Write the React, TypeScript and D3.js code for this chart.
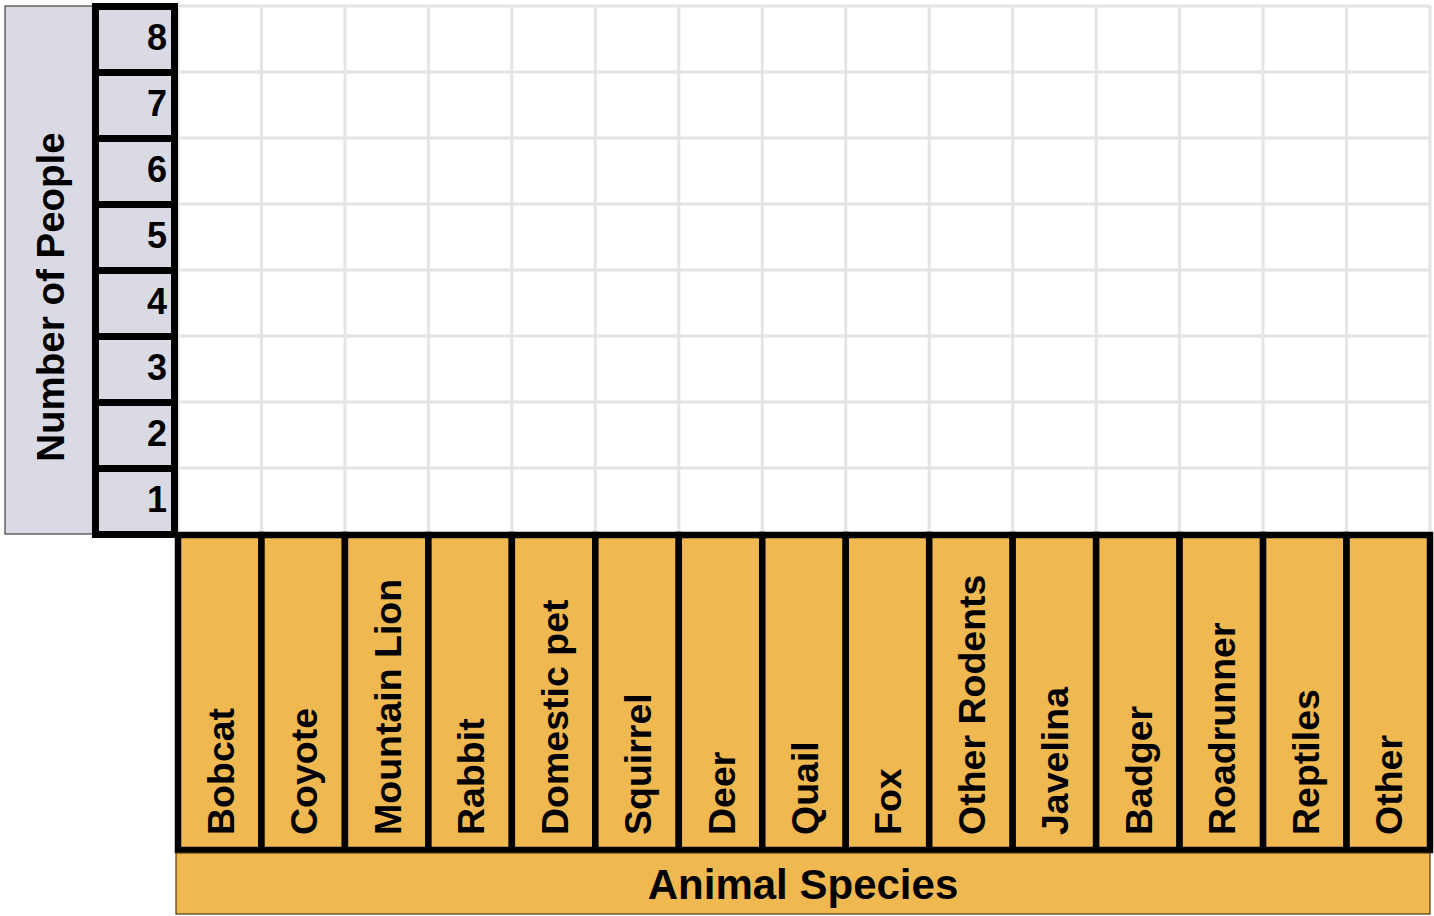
import * as d3 from 'd3'

const species = [
  'Bobcat', 'Coyote', 'Mountain Lion', 'Rabbit', 'Domestic pet', 'Squirrel', 'Deer',
  'Quail', 'Fox', 'Other Rodents', 'Javelina', 'Badger', 'Roadrunner', 'Reptiles', 'Other',
]
const peopleTicks = [8, 7, 6, 5, 4, 3, 2, 1]
const xTitle = 'Animal Species'
const yTitle = 'Number of People'

const W = 1434
const H = 916
const plot = { left: 178, right: 1430, top: 6, bottom: 534 }
const font = '"Liberation Sans", Arial, sans-serif'
const orange = '#f0b851'
const grayFill = '#d9dae4'
const gridColor = '#e4e4e4'

export default function App() {
  const x = d3.scaleBand<string>().domain(species).range([plot.left, plot.right])
  const y = d3.scaleBand<number>().domain(peopleTicks).range([plot.top, plot.bottom])

  const xEdges = species.map(s => x(s) as number).concat([plot.right])
  const yEdges = peopleTicks.map(v => y(v) as number)

  const labelTop = plot.bottom + 1
  const labelBottom = 850
  const titleTop = 853
  const titleBottom = 914

  return (
    <svg width={W} height={H} style={{ position: 'absolute', left: 0, top: 0, background: '#fff' }}>
      {/* grid */}
      <g stroke={gridColor} strokeWidth={3}>
        {yEdges.map((yy, i) => (
          <line key={'h' + i} x1={plot.left} x2={plot.right} y1={yy} y2={yy} />
        ))}
        {xEdges.map((xx, i) => (
          <line key={'v' + i} x1={xx} x2={xx} y1={plot.top} y2={plot.bottom} />
        ))}
      </g>

      {/* y title box */}
      <rect x={5} y={plot.top} width={88} height={plot.bottom - plot.top} fill={grayFill} stroke="#444" strokeWidth={1.2} />
      <text
        transform={`translate(${64},${297}) rotate(-90)`}
        textAnchor="middle"
        fontFamily={font}
        fontWeight="bold"
        fontSize={38.5}
        fill="#000"
      >
        {yTitle}
      </text>

      {/* y tick cells */}
      {peopleTicks.map(v => {
        const y0 = y(v) as number
        return (
          <g key={v}>
            <rect x={95.5} y={y0 + 0.5} width={79} height={y.bandwidth()} fill={grayFill} stroke="#000" strokeWidth={7} />
            <text
              x={167}
              y={y0 + y.bandwidth() / 2 + 1}
              dominantBaseline="middle"
              textAnchor="end"
              fontFamily={font}
              fontWeight="bold"
              fontSize={36}
            >
              {v}
            </text>
          </g>
        )
      })}

      {/* category label cells */}
      {species.map(s => {
        const x0 = x(s) as number
        const cx = x0 + x.bandwidth() / 2
        return (
          <g key={s}>
            <rect x={x0} y={labelTop} width={x.bandwidth()} height={labelBottom - labelTop} fill={orange} stroke="#000" strokeWidth={6.5} />
            <text
              transform={`translate(${cx + 14},${835}) rotate(-90)`}
              textAnchor="start"
              fontFamily={font}
              fontWeight="bold"
              fontSize={37.5}
            >
              {s}
            </text>
          </g>
        )
      })}

      {/* x title box */}
      <rect x={176} y={titleTop} width={plot.right - 176} height={titleBottom - titleTop} fill={orange} stroke="#4a3a10" strokeWidth={1.2} />
      <text
        x={(176 + plot.right) / 2}
        y={(titleTop + titleBottom) / 2 + 4}
        textAnchor="middle"
        dominantBaseline="middle"
        fontFamily={font}
        fontWeight="bold"
        fontSize={42}
      >
        {xTitle}
      </text>
    </svg>
  )
}
